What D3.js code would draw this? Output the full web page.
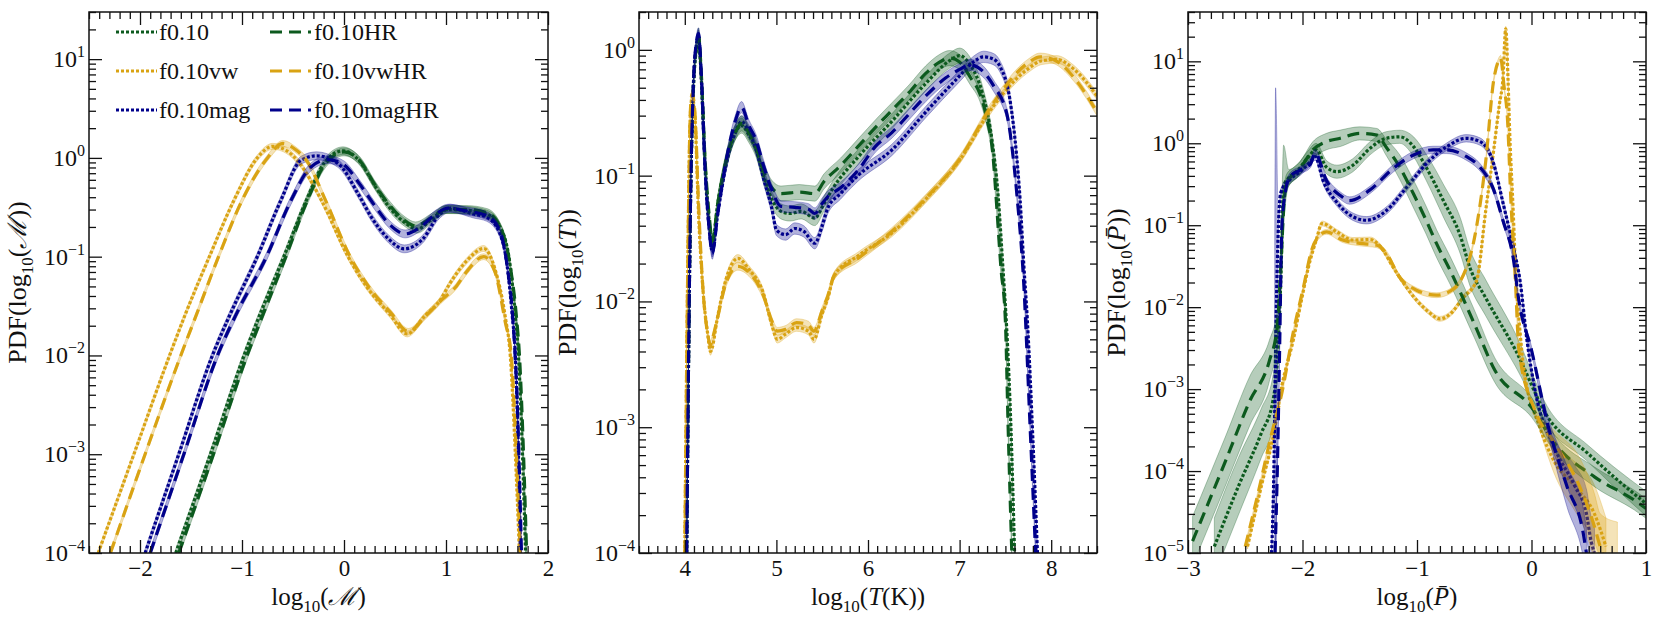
<!DOCTYPE html>
<html>
<head>
<meta charset="utf-8">
<script src="https://cdn.jsdelivr.net/npm/d3@7"></script>
<style>
  body { margin: 0; background: #fff; }
  text { font-family: "Liberation Serif", "DejaVu Serif", serif; fill: #111; }
</style>
</head>
<body>
<svg id="fig" width="1661" height="624"></svg>
<script>
// ---------- data (x, PDF[, band half-width in dex]) ----------
// panel 1 : log10(Mach)
const mach_f010 = [[-1.65,1e-4],[-1.31,1e-3],[-0.98,1e-2],[-0.80,0.03],[-0.59,0.1],[-0.37,0.37],[-0.19,0.9],[-0.01,1.18],[0.14,0.96],[0.31,0.51],[0.44,0.32],[0.60,0.22],[0.72,0.19],[0.86,0.24],[1.0,0.30],[1.2,0.295],[1.40,0.27],[1.53,0.2],[1.63,0.08],[1.68,0.025],[1.71,1e-2],[1.75,1e-3],[1.78,1e-4]];
const mach_vw = [[-2.41,1e-4],[-2.06,1e-3],[-1.71,1e-2],[-1.55,0.027],[-1.32,0.1],[-1.08,0.37],[-0.85,1.0],[-0.70,1.31],[-0.56,1.18],[-0.46,0.95],[-0.22,0.37],[0.04,0.1],[0.22,0.05],[0.45,0.026],[0.62,0.0165],[0.79,0.025],[0.94,0.036],[1.04,0.054],[1.2,0.09],[1.37,0.121],[1.48,0.075],[1.58,0.025],[1.63,1e-2],[1.68,1e-3],[1.72,1e-4]];
const mach_mag = [[-1.95,1e-4],[-1.62,1e-3],[-1.29,1e-2],[-1.11,0.027],[-0.85,0.1],[-0.62,0.37],[-0.42,0.95],[-0.27,1.05],[-0.06,0.88],[0.14,0.43],[0.27,0.25],[0.44,0.15],[0.59,0.12],[0.77,0.15],[0.94,0.27],[1.04,0.31],[1.27,0.27],[1.40,0.25],[1.53,0.17],[1.60,0.08],[1.65,0.025],[1.68,1e-2],[1.71,1e-3],[1.73,1e-4]];
const mach_f010HR = [[-1.62,1e-4],[-1.28,1e-3],[-0.95,1e-2],[-0.77,0.03],[-0.57,0.1],[-0.36,0.37],[-0.18,0.88],[0.0,1.15],[0.15,0.95],[0.31,0.52],[0.45,0.33],[0.60,0.23],[0.70,0.205],[0.86,0.25],[1.0,0.30],[1.2,0.30],[1.40,0.28],[1.53,0.2],[1.63,0.08],[1.69,0.025],[1.72,1e-2],[1.76,1e-3],[1.79,1e-4]];
const mach_vwHR = [[-2.29,1e-4],[-1.95,1e-3],[-1.60,1e-2],[-1.44,0.027],[-1.23,0.1],[-1.0,0.37],[-0.75,1.0],[-0.60,1.4],[-0.47,1.2],[-0.37,0.95],[-0.18,0.37],[0.06,0.1],[0.24,0.05],[0.46,0.027],[0.63,0.0175],[0.80,0.025],[0.95,0.036],[1.1,0.05],[1.2,0.07],[1.37,0.1],[1.48,0.07],[1.58,0.022],[1.64,1e-2],[1.69,1e-3],[1.73,1e-4]];
const mach_magHR = [[-1.90,1e-4],[-1.57,1e-3],[-1.24,1e-2],[-1.05,0.027],[-0.76,0.1],[-0.52,0.37],[-0.33,0.8],[-0.16,0.96],[0.0,0.85],[0.15,0.55],[0.30,0.33],[0.45,0.21],[0.60,0.17],[0.75,0.2],[0.9,0.27],[1.02,0.31],[1.2,0.29],[1.40,0.26],[1.53,0.18],[1.60,0.08],[1.66,0.02],[1.70,3e-3],[1.74,1e-4]];

// panel 2 : log10(T)
const temp_f010 = [[4.02,1e-4],[4.04,3e-3],[4.06,0.05],[4.09,0.4],[4.13,1.05],[4.15,1.2],[4.18,0.6],[4.22,0.13],[4.27,0.04],[4.30,0.029],[4.36,0.06],[4.45,0.13],[4.55,0.22],[4.62,0.25],[4.70,0.21],[4.78,0.16],[4.86,0.1],[4.95,0.065],[5.05,0.052],[5.15,0.05],[5.27,0.052],[5.42,0.046],[5.52,0.06],[5.62,0.08],[5.89,0.14],[6.26,0.27],[6.63,0.54],[6.89,0.82],[7.0,0.9],[7.12,0.75],[7.25,0.45],[7.35,0.2],[7.42,0.07],[7.47,0.02],[7.52,5e-3],[7.56,1e-3],[7.60,1e-4]];
const temp_vw = [[4.00,1e-4],[4.02,3e-3],[4.04,0.05],[4.06,0.3],[4.08,0.42],[4.11,0.3],[4.15,0.05],[4.20,0.012],[4.25,5.5e-3],[4.28,4e-3],[4.30,4.3e-3],[4.35,7e-3],[4.45,0.015],[4.58,0.022],[4.70,0.018],[4.86,0.0115],[4.95,0.0065],[5.01,0.005],[5.1,0.0055],[5.22,0.0062],[5.35,0.0058],[5.41,0.005],[5.5,0.008],[5.56,0.0105],[5.63,0.016],[5.89,0.023],[6.26,0.035],[6.63,0.065],[7.0,0.133],[7.36,0.35],[7.74,0.7],[7.9,0.82],[8.06,0.84],[8.25,0.7],[8.5,0.43]];
const temp_mag = [[4.02,1e-4],[4.04,3e-3],[4.06,0.05],[4.09,0.45],[4.13,1.15],[4.15,1.3],[4.18,0.6],[4.22,0.12],[4.27,0.035],[4.30,0.025],[4.36,0.05],[4.45,0.12],[4.55,0.22],[4.62,0.27],[4.70,0.22],[4.78,0.16],[4.86,0.095],[4.95,0.055],[5.0,0.037],[5.1,0.034],[5.2,0.038],[5.3,0.036],[5.42,0.029],[5.5,0.04],[5.56,0.055],[5.7,0.072],[5.89,0.1],[6.26,0.16],[6.63,0.32],[7.0,0.62],[7.15,0.8],[7.26,0.88],[7.36,0.85],[7.44,0.74],[7.55,0.4],[7.62,0.15],[7.66,0.065],[7.70,0.02],[7.74,7e-3],[7.80,8e-4],[7.85,1e-4]];
const temp_f010HR = [[4.02,1e-4],[4.04,3e-3],[4.06,0.05],[4.09,0.45],[4.13,1.1],[4.15,1.3],[4.18,0.65],[4.22,0.14],[4.27,0.045],[4.30,0.03],[4.36,0.06],[4.45,0.13],[4.55,0.22],[4.62,0.26],[4.70,0.22],[4.78,0.17],[4.86,0.11],[4.95,0.08],[5.05,0.072],[5.25,0.074],[5.42,0.072],[5.52,0.09],[5.7,0.12],[5.89,0.17],[6.1,0.25],[6.26,0.33],[6.45,0.46],[6.63,0.65],[6.78,0.8],[6.89,0.86],[7.0,0.8],[7.12,0.6],[7.22,0.45],[7.29,0.3],[7.37,0.13],[7.40,0.065],[7.45,0.019],[7.50,7e-3],[7.53,1e-3],[7.57,1e-4]];
const temp_vwHR = [[4.00,1e-4],[4.02,3e-3],[4.04,0.05],[4.06,0.32],[4.08,0.45],[4.11,0.32],[4.15,0.06],[4.20,0.012],[4.25,5.5e-3],[4.28,4.5e-3],[4.30,5e-3],[4.35,7e-3],[4.45,0.014],[4.58,0.019],[4.70,0.017],[4.86,0.011],[4.95,0.007],[5.01,0.0058],[5.1,0.006],[5.22,0.0068],[5.35,0.0065],[5.41,0.0058],[5.5,0.0085],[5.56,0.011],[5.63,0.016],[5.89,0.022],[6.26,0.036],[6.63,0.066],[7.0,0.135],[7.36,0.37],[7.74,0.78],[7.88,0.88],[8.05,0.82],[8.25,0.6],[8.5,0.32]];
const temp_magHR = [[4.02,1e-4],[4.04,3e-3],[4.06,0.05],[4.09,0.45],[4.13,1.2],[4.15,1.35],[4.18,0.65],[4.22,0.12],[4.27,0.035],[4.30,0.024],[4.36,0.05],[4.45,0.13],[4.55,0.27],[4.62,0.35],[4.70,0.25],[4.78,0.19],[4.86,0.12],[4.95,0.077],[5.05,0.057],[5.2,0.056],[5.35,0.054],[5.42,0.05],[5.5,0.06],[5.56,0.068],[5.70,0.08],[5.89,0.11],[6.08,0.17],[6.26,0.22],[6.45,0.31],[6.63,0.43],[6.85,0.6],[7.0,0.7],[7.11,0.76],[7.25,0.68],[7.37,0.52],[7.52,0.3],[7.58,0.15],[7.63,0.065],[7.70,0.014],[7.77,1e-3],[7.83,1e-4]];

// panel 3 : log10(P)
const press_f010 = [[-2.77,1.2e-5,0.35],[-2.56,6.5e-5,0.35],[-2.36,2.9e-4,0.3],[-2.26,7e-4,0.3],[-2.22,2.2e-3,0.25],[-2.19,0.02,0.2],[-2.165,0.3,0.5],[-2.12,0.38,0.1],[-2.05,0.45,0.08],[-1.96,0.65,0.08],[-1.88,0.83,0.08],[-1.79,0.51,0.08],[-1.70,0.45,0.08],[-1.56,0.54,0.08],[-1.41,0.87,0.08],[-1.27,1.15,0.08],[-1.15,1.2,0.08],[-1.03,0.91,0.12],[-0.92,0.51,0.16],[-0.77,0.2,0.2],[-0.62,0.073,0.22],[-0.54,0.031,0.22],[-0.4,0.013,0.22],[-0.14,3e-3,0.2],[0.14,4.6e-4,0.12],[0.48,1.7e-4,0.1],[0.72,8.5e-5,0.12],[1.0,4e-5,0.15]];
const press_vw = [[-2.48,1.2e-5],[-2.36,6.5e-5],[-2.25,2.9e-4],[-2.18,1.1e-3],[-2.08,4e-3],[-2.01,0.012],[-1.95,0.03],[-1.88,0.066],[-1.83,0.105],[-1.70,0.083],[-1.56,0.066],[-1.41,0.067],[-1.32,0.055],[-1.21,0.031],[-1.11,0.019],[-1.0,0.012],[-0.9,0.0088],[-0.80,0.0072],[-0.70,0.0085],[-0.60,0.013],[-0.48,0.021],[-0.40,0.15],[-0.33,0.83],[-0.28,3],[-0.25,6],[-0.225,25],[-0.205,6],[-0.19,1.3],[-0.16,0.15],[-0.14,0.03],[-0.10,5e-3],[-0.07,1.9e-3],[0.07,3.5e-4],[0.2,1.3e-4,0.15],[0.38,6.5e-5,0.3],[0.55,3e-5,0.35],[0.65,1.2e-5,0.35]];
const press_mag = [[-2.27,1e-5],[-2.25,1e-4],[-2.235,3e-3,3.2],[-2.21,0.1],[-2.19,0.25],[-2.11,0.36],[-2.02,0.45],[-1.93,0.6],[-1.89,0.69],[-1.82,0.35],[-1.70,0.19],[-1.56,0.127],[-1.44,0.115],[-1.27,0.15],[-1.09,0.29],[-0.92,0.56],[-0.74,0.91],[-0.57,1.15],[-0.45,1.05],[-0.33,0.56],[-0.25,0.19],[-0.16,0.055],[-0.10,0.021],[-0.04,4e-3],[0.03,9.8e-4],[0.21,1.8e-4,0.1],[0.38,6.5e-5,0.25],[0.48,3e-5,0.3],[0.52,1.4e-5,0.3],[0.55,1e-5,0.3]];
const press_f010HR = [[-2.96,1.4e-5,0.3],[-2.67,1.35e-4,0.3],[-2.46,7.2e-4,0.3],[-2.29,2.2e-3,0.25],[-2.22,5.8e-3,0.2],[-2.19,0.03,0.2],[-2.16,0.2,0.15],[-2.14,0.33,0.1],[-2.08,0.42,0.08],[-2.02,0.5,0.08],[-1.91,0.83,0.1],[-1.79,1.05,0.1],[-1.67,1.15,0.1],[-1.50,1.32,0.08],[-1.35,1.26,0.08],[-1.27,0.9,0.1],[-1.15,0.51,0.15],[-1.03,0.24,0.17],[-0.92,0.115,0.17],[-0.83,0.06,0.17],[-0.71,0.028,0.17],[-0.5,6.3e-3,0.17],[-0.32,1.7e-3,0.15],[0.0,6e-4,0.12],[0.2,2.2e-4,0.1],[0.55,8.5e-5,0.12],[0.9,4.4e-5,0.12],[1.0,3.5e-5,0.12]];
const press_vwHR = [[-2.50,1.2e-5],[-2.38,6e-5],[-2.28,2.5e-4],[-2.18,9e-4],[-2.08,5e-3],[-1.99,0.018],[-1.92,0.05],[-1.85,0.075],[-1.79,0.083],[-1.65,0.066],[-1.50,0.06],[-1.35,0.057],[-1.27,0.046],[-1.15,0.023],[-1.0,0.016],[-0.83,0.014],[-0.70,0.016],[-0.62,0.021],[-0.49,0.08],[-0.40,0.6],[-0.33,5.9],[-0.29,10],[-0.27,11],[-0.24,5],[-0.21,2],[-0.18,0.2],[-0.14,0.02],[-0.11,3e-3],[0.03,5.5e-4],[0.2,2.2e-4,0.15],[0.42,6.5e-5,0.35],[0.55,2.1e-5,0.4],[0.6,1.2e-5,0.4],[0.75,6e-6,0.6]];
const press_magHR = [[-2.24,1e-5],[-2.22,1e-4],[-2.20,3e-3],[-2.18,0.1],[-2.15,0.25],[-2.11,0.39],[-2.02,0.47],[-1.93,0.56],[-1.89,0.76],[-1.79,0.35],[-1.67,0.23],[-1.59,0.2],[-1.41,0.27],[-1.21,0.49],[-1.03,0.72],[-0.86,0.83],[-0.74,0.83],[-0.57,0.69],[-0.45,0.51],[-0.33,0.27],[-0.25,0.115],[-0.16,0.04],[-0.11,0.012],[0.0,3e-3],[0.14,3.8e-4,0.1],[0.31,6.5e-5,0.25],[0.45,1.8e-5,0.3],[0.48,1e-5,0.3]];

const runNames = ["f0.10", "f0.10vw", "f0.10mag", "f0.10HR", "f0.10vwHR", "f0.10magHR"];
const runModel = ["base", "vw", "mag", "base", "vw", "mag"];
const runHR = [false, false, false, true, true, true];

// ---------- styling ----------
const COLORS = { base: "#0c5a1e", vw: "#d9a313", mag: "#00008b" };
const TOP = 12, BOTTOM = 553;
const DOT = "3,2", DASH = "12,7";
const svg = d3.select("#fig");

const panels = [
	{
		left: 89, right: 548, xDomain: [-2.5, 2], yDomain: [1e-4, 30],
		series: [mach_f010, mach_vw, mach_mag, mach_f010HR, mach_vwHR, mach_magHR],
		spread: { base: 0.04, vw: 0.03, mag: 0.04 },
		xlabel: [{ t: "log" }, { t: "10", sub: true }, { t: "(" }, { t: "ℳ", it: true }, { t: ")" }],
		ylabel: [{ t: "PDF(log" }, { t: "10", sub: true }, { t: "(" }, { t: "ℳ", it: true }, { t: "))" }],
		legend: true,
	},
	{
		left: 639, right: 1097, xDomain: [3.5, 8.5], yDomain: [1e-4, 2],
		series: [temp_f010, temp_vw, temp_mag, temp_f010HR, temp_vwHR, temp_magHR],
		spread: { base: 0.06, vw: 0.03, mag: 0.045 },
		xlabel: [{ t: "log" }, { t: "10", sub: true }, { t: "(" }, { t: "T", it: true }, { t: "(K))" }],
		ylabel: [{ t: "PDF(log" }, { t: "10", sub: true }, { t: "(" }, { t: "T", it: true }, { t: "))" }],
	},
	{
		left: 1188, right: 1646, xDomain: [-3, 1], yDomain: [1e-5, 40],
		series: [press_f010, press_vw, press_mag, press_f010HR, press_vwHR, press_magHR],
		spread: { base: 0.1, vw: 0.03, mag: 0.045 },
		xlabel: [{ t: "log" }, { t: "10", sub: true }, { t: "(" }, { t: "P\u0304", it: true }, { t: ")" }],
		ylabel: [{ t: "PDF(log" }, { t: "10", sub: true }, { t: "(" }, { t: "P\u0304", it: true }, { t: "))" }],
	},
];

const minus = (v) => String(v).replace("-", "\u2212");

function richText(sel, parts) {
	parts.forEach((p, k) => {
		const ts = sel.append("tspan").text(p.t);
		if (p.it) ts.attr("font-style", "italic");
		if (p.sub) ts.attr("font-size", 17).attr("dy", 7);
		if (k > 0 && parts[k - 1].sub) ts.attr("dy", -7);
	});
}

panels.forEach((cfg, pi) => {
	const g = svg.append("g");
	const x = d3.scaleLinear().domain(cfg.xDomain).range([cfg.left, cfg.right]);
	const y = d3.scaleLog().domain(cfg.yDomain).range([BOTTOM, TOP]);

	const clipId = "clip" + pi;
	svg.append("clipPath").attr("id", clipId)
		.append("rect").attr("x", cfg.left).attr("y", TOP)
		.attr("width", cfg.right - cfg.left).attr("height", BOTTOM - TOP);

	const plot = g.append("g").attr("clip-path", `url(#${clipId})`);

	cfg.series.forEach((pts, i) => {
		const col = COLORS[runModel[i]];
		const s0 = cfg.spread[runModel[i]];
		const sp = (d) => Math.pow(10, d.length > 2 ? d[2] : s0);
		const area = d3.area().curve(d3.curveMonotoneX)
			.x((d) => x(d[0]))
			.y0((d) => y(d[1] / sp(d)))
			.y1((d) => y(d[1] * sp(d)));
		const line = d3.line().curve(d3.curveMonotoneX)
			.x((d) => x(d[0]))
			.y((d) => y(d[1]));
		plot.append("path").datum(pts).attr("d", area)
			.attr("fill", col).attr("fill-opacity", 0.3)
			.attr("stroke", col).attr("stroke-opacity", 0.3).attr("stroke-width", 1);
		plot.append("path").datum(pts).attr("d", line)
			.attr("fill", "none").attr("stroke", col).attr("stroke-width", 3.2)
			.attr("stroke-dasharray", runHR[i] ? DASH : DOT);
	});

	// ticks
	const [x0, x1] = cfg.xDomain;
	const majX = d3.range(Math.ceil(x0), Math.floor(x1) + 0.001, 1);
	const minX = d3.range(Math.round(x0 * 10), Math.round(x1 * 10) + 1)
		.filter((k) => k % 10 !== 0).map((k) => k / 10);
	const e0 = Math.round(Math.log10(cfg.yDomain[0]));
	const e1 = Math.floor(Math.log10(cfg.yDomain[1]));
	const majY = d3.range(e0, e1 + 1).map((e) => Math.pow(10, e));
	const minY = [];
	for (let e = e0; e <= e1; e++) for (let m = 2; m <= 9; m++) {
		const v = m * Math.pow(10, e);
		if (v <= cfg.yDomain[1] * 1.0001) minY.push(v);
	}

	const axes = g.append("g").attr("class", "axes");
	const styleAxis = (a) => {
		a.select(".domain").remove();
		a.selectAll(".tick line").attr("stroke", "#111").attr("stroke-width", 1.3);
		a.selectAll("text").attr("font-size", 23).attr("fill", "#111");
	};
	axes.append("g").attr("transform", `translate(0,${BOTTOM})`)
		.call(d3.axisBottom(x).tickValues(majX).tickSize(-13).tickPadding(7).tickFormat(minus)).call(styleAxis);
	axes.append("g").attr("transform", `translate(0,${BOTTOM})`)
		.call(d3.axisBottom(x).tickValues(minX).tickSize(-7).tickFormat("")).call(styleAxis);
	axes.append("g").attr("transform", `translate(0,${TOP})`)
		.call(d3.axisTop(x).tickValues(majX).tickSize(-13).tickFormat("")).call(styleAxis);
	axes.append("g").attr("transform", `translate(0,${TOP})`)
		.call(d3.axisTop(x).tickValues(minX).tickSize(-7).tickFormat("")).call(styleAxis);

	const yl = axes.append("g").attr("transform", `translate(${cfg.left},0)`)
		.call(d3.axisLeft(y).tickValues(majY).tickSize(-13).tickPadding(4).tickFormat(() => "")).call(styleAxis);
	yl.selectAll(".tick text").each(function (d) {
		const t = d3.select(this);
		t.append("tspan").attr("font-size", 24).text("10");
		t.append("tspan").attr("font-size", 16).attr("dy", -10)
			.text(minus(Math.round(Math.log10(d))));
	});
	axes.append("g").attr("transform", `translate(${cfg.left},0)`)
		.call(d3.axisLeft(y).tickValues(minY).tickSize(-7).tickFormat("")).call(styleAxis);
	axes.append("g").attr("transform", `translate(${cfg.right},0)`)
		.call(d3.axisRight(y).tickValues(majY).tickSize(-13).tickFormat("")).call(styleAxis);
	axes.append("g").attr("transform", `translate(${cfg.right},0)`)
		.call(d3.axisRight(y).tickValues(minY).tickSize(-7).tickFormat("")).call(styleAxis);

	g.append("rect").attr("x", cfg.left).attr("y", TOP)
		.attr("width", cfg.right - cfg.left).attr("height", BOTTOM - TOP)
		.attr("fill", "none").attr("stroke", "#111").attr("stroke-width", 1.5);

	// axis labels
	const xl = g.append("text").attr("x", (cfg.left + cfg.right) / 2).attr("y", 605)
		.attr("text-anchor", "middle").attr("font-size", 25);
	richText(xl, cfg.xlabel);
	const ylab = g.append("text")
		.attr("transform", `translate(${cfg.left - 63},${(TOP + BOTTOM) / 2}) rotate(-90)`)
		.attr("text-anchor", "middle").attr("font-size", 26);
	richText(ylab, cfg.ylabel);

	// legend
	if (cfg.legend) {
		const lg = g.append("g");
		runNames.forEach((name, i) => {
			const col = i < 3 ? 0 : 1;
			const row = i % 3;
			const lx = col === 0 ? 116 : 270;
			const tx = col === 0 ? 159 : 314;
			const cy = 32 + row * 39;
			lg.append("line").attr("x1", lx).attr("x2", lx + 41).attr("y1", cy).attr("y2", cy)
				.attr("stroke", COLORS[runModel[i]]).attr("stroke-width", 3.2)
				.attr("stroke-dasharray", runHR[i] ? DASH : DOT);
			lg.append("text").attr("x", tx).attr("y", cy + 8).attr("font-size", 24).text(name);
		});
	}
});
</script>
</body>
</html>
